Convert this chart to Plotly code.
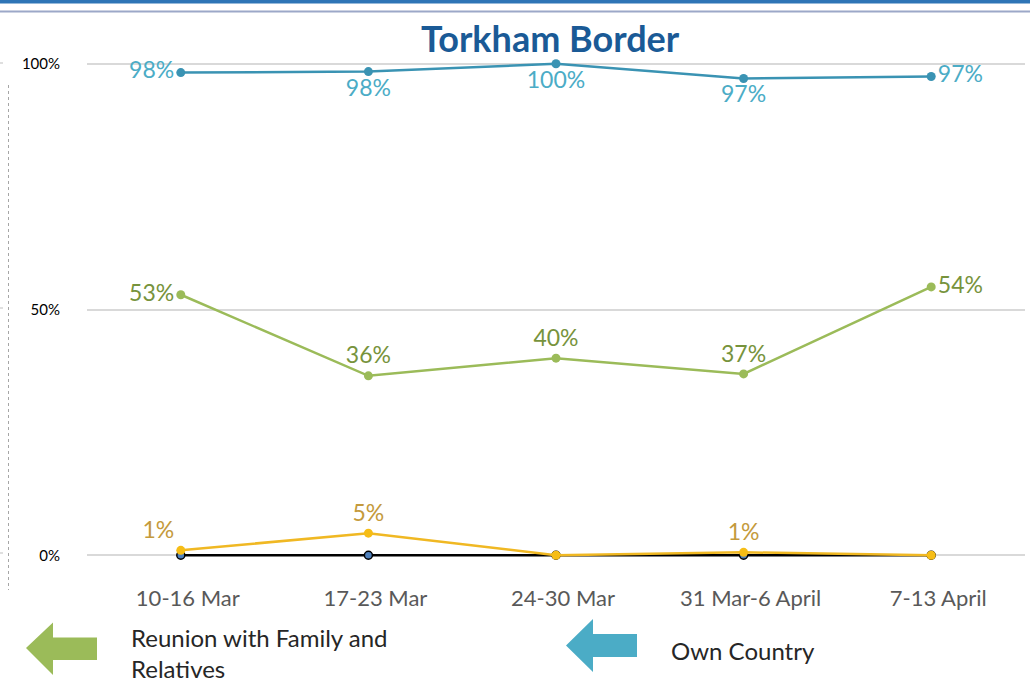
import plotly.graph_objects as go

weeks = ["10-16 Mar", "17-23 Mar", "24-30 Mar", "31 Mar-6 April", "7-13 April"]
own_country = [98.2, 98.4, 100, 97.0, 97.4]
own_country_text = ["98%", "98%", "100%", "97%", "97%"]
reunion = [53.0, 36.5, 40.1, 36.9, 54.6]
reunion_text = ["53%", "36%", "40%", "37%", "54%"]
other = [1.0, 4.5, 0, 0.6, 0]
other_text = ["1%", "5%", "", "1%", ""]
zero_series = [0, 0, 0, 0, 0]
y_ticks = [0, 50, 100]
y_tick_text = ["0%", "50%", "100%"]

W, H = 1030, 685
ML, MR, MT, MB = 87, 5, 49, 115
PW, PH = W - ML - MR, H - MT - MB


def px(x):
    return (x - ML) / PW


def py(y):
    return (H - MB - y) / PH


fig = go.Figure()

fig.add_trace(go.Scatter(
    x=weeks, y=zero_series, mode="lines+markers",
    line=dict(color="#000000", width=2.5),
    marker=dict(size=8, color="#4f81bd", line=dict(color="#000000", width=1.5)),
    showlegend=False, cliponaxis=False, hoverinfo="skip"))

fig.add_trace(go.Scatter(
    x=weeks, y=other, mode="lines+markers+text",
    text=other_text,
    textposition=["top left", "top center", "top center", "top center", "top center"],
    textfont=dict(family="Lato", size=23, color="#c49a3c"),
    line=dict(color="#f0b823", width=2.5),
    marker=dict(size=9, color="#f6bd16"),
    showlegend=False, cliponaxis=False))

fig.add_trace(go.Scatter(
    x=weeks, y=reunion, mode="lines+markers+text",
    text=reunion_text,
    textposition=["middle left", "top center", "top center", "top center", "middle right"],
    textfont=dict(family="Lato", size=23, color="#77933c"),
    line=dict(color="#9bbb59", width=2.5),
    marker=dict(size=9, color="#9bbb59"),
    showlegend=False, cliponaxis=False))

fig.add_trace(go.Scatter(
    x=weeks, y=own_country, mode="lines+markers+text",
    text=own_country_text,
    textposition=["middle left", "bottom center", "bottom center", "bottom center", "middle right"],
    textfont=dict(family="Lato", size=23, color="#4bacc6"),
    line=dict(color="#3a93b3", width=2.5),
    marker=dict(size=9, color="#3a93b3"),
    showlegend=False, cliponaxis=False))

shapes = [
    # top border bands
    dict(type="rect", xref="paper", yref="paper", x0=px(0), x1=px(W), y0=py(0), y1=py(3.5),
         fillcolor="#2e75b6", line=dict(width=0), layer="above"),
    dict(type="line", xref="paper", yref="paper", x0=px(0), x1=px(W), y0=py(11.5), y1=py(11.5),
         line=dict(color="#9ca8c8", width=2)),
    # left dashed line
    dict(type="line", xref="paper", yref="paper", x0=px(8.5), x1=px(8.5), y0=py(85), y1=py(590),
         line=dict(color="#a6a6a6", width=1, dash="3px,3px")),
    # green arrow
    dict(type="path", xref="paper", yref="paper",
         path="M {a},{b} L {c},{d} L {c},{e} L {f},{e} L {f},{g} L {c},{g} L {c},{h} Z".format(
             a=px(26), b=py(648), c=px(53), d=py(622.5), e=py(637.5), f=px(97), g=py(660), h=py(675)),
         fillcolor="#9bbb59", line=dict(width=0)),
    # teal arrow
    dict(type="path", xref="paper", yref="paper",
         path="M {a},{b} L {c},{d} L {c},{e} L {f},{e} L {f},{g} L {c},{g} L {c},{h} Z".format(
             a=px(566), b=py(645.5), c=px(593), d=py(619), e=py(634), f=px(637), g=py(657), h=py(672)),
         fillcolor="#4bacc6", line=dict(width=0)),
]
for yy in (63, 308, 553):
    shapes.append(dict(type="line", xref="paper", yref="paper", x0=px(0), x1=px(3), y0=py(yy), y1=py(yy),
                       line=dict(color="#bfbfbf", width=1)))

annotations = [
    dict(text="<b>Torkham Border</b>", xref="paper", yref="paper", x=px(550), y=py(38),
         xanchor="center", yanchor="middle", showarrow=False,
         font=dict(family="Lato", size=36, color="#1a5a96")),
    dict(text="Reunion with Family and<br>Relatives", xref="paper", yref="paper", x=px(129), y=py(653),
         xanchor="left", yanchor="middle", align="left", showarrow=False,
         font=dict(family="Lato", size=24, color="#262626")),
    dict(text="Own Country", xref="paper", yref="paper", x=px(669), y=py(650),
         xanchor="left", yanchor="middle", align="left", showarrow=False,
         font=dict(family="Lato", size=24, color="#262626")),
]

fig.update_layout(
    width=W, height=H,
    margin=dict(l=ML, r=MR, t=MT, b=MB, pad=0),
    plot_bgcolor="white", paper_bgcolor="white",
    shapes=shapes, annotations=annotations,
    xaxis=dict(type="category", range=[-0.5, 4.5], showgrid=False, zeroline=False, showline=False,
               ticks="", tickfont=dict(family="Lato", size=22, color="#595959"),
               ticklabelstandoff=13, ticklabelshift=7),
    yaxis=dict(range=[-3, 103], tickvals=y_ticks, ticktext=y_tick_text, showgrid=True,
               gridcolor="#d9d9d9", gridwidth=1.5, zeroline=False, showline=False, ticks="",
               tickfont=dict(family="Lato", size=15, color="#000000"), ticklabelstandoff=26),
)

fig.write_html("out.html", config={"displayModeBar": False},
               post_script="document.body.style.margin='0';document.body.style.overflow='hidden';")
